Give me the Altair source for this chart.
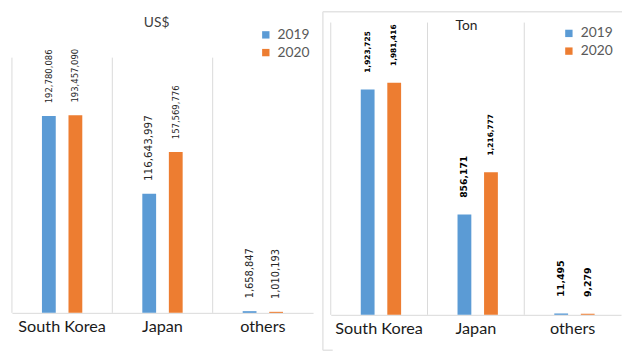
import altair as alt
import pandas as pd

# ---- data ----
countries = ["South Korea", "Japan", "others"]
years = ["2019", "2020"]
usd_2019 = [192780086, 116643997, 1658847]
usd_2020 = [193457090, 157569776, 1010193]
ton_2019 = [1923725, 856171, 11495]
ton_2020 = [1981416, 1216777, 9279]

# label font sizes (style only), order: country then year
usd_label_sizes = [8.6, 8.6, 10.5, 8.6, 10, 10]
ton_label_sizes = [7.5, 7.5, 9.4, 7.5, 9.6, 9.5]

BLUE = "#5b9bd5"
ORANGE = "#ed7d31"
GRID = "#d9d9d9"
FRAME = "#e3e3e3"


def make_df(v19, v20, sizes):
    rows = []
    i = 0
    for c, a, b in zip(countries, v19, v20):
        rows.append(dict(country=c, year="2019", value=a, size=sizes[i]))
        i += 1
        rows.append(dict(country=c, year="2020", value=b, size=sizes[i]))
        i += 1
    return pd.DataFrame(rows)


def panel(df, title, ymax, grid_top, width, height, off_range, label_weight,
          label_color, gap, title_x, title_y, title_color, leg_x, leg_y, frame=False):
    xsc = alt.Scale(domain=countries, paddingInner=0, paddingOuter=0)
    ysc = alt.Scale(domain=[0, ymax], nice=False, zero=True)
    xaxis = alt.Axis(title=None, labelAngle=0, ticks=False, grid=False,
                     domainColor=GRID, domainWidth=1, labelFont="Lato",
                     labelFontSize=16.5, labelColor="#1a1a1a", labelPadding=6)
    xoff = alt.XOffset("year:N", scale=alt.Scale(domain=years, paddingInner=0.48,
                                                  paddingOuter=0, range=off_range))
    grid_df = pd.DataFrame({"country": countries, "lo": [0] * 3, "hi": [grid_top] * 3})
    rules = alt.Chart(grid_df).mark_rule(color=GRID, strokeWidth=1).encode(
        x=alt.X("country:N", scale=xsc, axis=xaxis, bandPosition=0, sort=countries),
        y=alt.Y("lo:Q", scale=ysc, axis=None),
        y2="hi:Q",
    )
    base = alt.Chart(df)
    bars = base.mark_bar().encode(
        x=alt.X("country:N", scale=xsc, axis=xaxis, sort=countries),
        xOffset=xoff,
        y=alt.Y("value:Q", scale=ysc, axis=None),
        color=alt.Color("year:N", scale=alt.Scale(domain=years, range=[BLUE, ORANGE]),
                        legend=alt.Legend(title=None, orient="none", legendX=leg_x,
                                          legendY=leg_y, symbolType="square",
                                          symbolSize=56, symbolStrokeWidth=0,
                                          labelFont="Lato", labelFontSize=14,
                                          labelColor="#595959", rowPadding=4,
                                          labelOffset=5, padding=0)),
    )
    labels = base.mark_text(angle=270, align="left", baseline="middle", dx=gap,
                            font="DejaVu Sans", fontWeight=label_weight,
                            color=label_color).encode(
        x=alt.X("country:N", scale=xsc, axis=xaxis, sort=countries),
        xOffset=xoff,
        y=alt.Y("value:Q", scale=ysc, axis=None),
        text=alt.Text("value:Q", format=","),
        size=alt.Size("size:Q", scale=None),
    )
    ttl = alt.Chart(pd.DataFrame({"t": [title]})).mark_text(
        font="Lato", fontSize=14, color=title_color, align="center", baseline="middle"
    ).encode(text="t:N", x=alt.value(title_x), y=alt.value(title_y))
    layers = [rules, bars, labels, ttl]
    if frame:
        one = pd.DataFrame({"k": [0]})
        vline = alt.Chart(one).mark_rule(color=FRAME, strokeWidth=1.5).encode(
            x=alt.value(-8), y=alt.value(-11), y2=alt.value(333))
        hline = alt.Chart(one).mark_rule(color=FRAME, strokeWidth=1.5).encode(
            x=alt.value(-8), x2=alt.value(296), y=alt.value(-11))
        bline = alt.Chart(one).mark_rule(color=FRAME, strokeWidth=1.5).encode(
            x=alt.value(-8), x2=alt.value(2), y=alt.value(333))
        layers = [vline, hline, bline] + layers
    return alt.layer(*layers).properties(width=width, height=height)


left = panel(make_df(usd_2019, usd_2020, usd_label_sizes), "US$", 284.35e6, 250e6,
             306, 295, [30.5, 71.5], "normal", "#262626", 13, 147, 0, "#404040", 251, 5.5)
right = panel(make_df(ton_2019, ton_2020, ton_label_sizes), "Ton", 2.495e6, 2.495e6,
              295, 297, [30.2, 68.2], "bold", "#000000", 17, 138, 4, "#262626", 235, 4,
              frame=True)

chart = alt.hconcat(left, right, spacing=18, bounds="flush").resolve_scale(
    color="independent", x="independent", y="independent"
).resolve_legend(color="independent").configure_view(stroke=None).properties(
    padding={"left": 3, "top": 0, "right": 0, "bottom": 0},
    background="white",
)

chart.save("out.html", embed_options={"renderer": "svg", "actions": False})
